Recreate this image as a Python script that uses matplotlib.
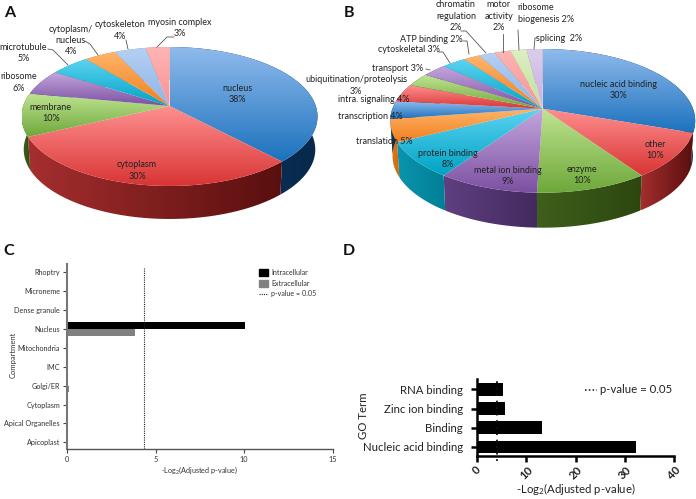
#!/usr/bin/env python3
import numpy as np
import matplotlib
matplotlib.use("Agg")
import matplotlib.pyplot as plt
from matplotlib.colors import LinearSegmentedColormap
from matplotlib.patches import Polygon
from matplotlib.lines import Line2D
from matplotlib.patches import Patch

plt.rcParams['font.family'] = ['Lato', 'DejaVu Sans']
plt.rcParams['mathtext.default'] = 'regular'

# panel A
a_values = [38, 30, 10, 6, 5, 4, 4, 3]
a_labels = ["nucleus\n38%", "cytoplasm\n30%", "membrane\n10%", "ribosome\n6%",
            "microtubule\n5%", "cytoplasm/\nnucleus\n4%", "cytoskeleton\n4%",
            "myosin complex\n3%"]
# panel B
b_values = [30, 10, 10, 9, 8, 5, 4, 4, 3, 3, 3, 2, 2, 2, 2, 2]
b_labels = ["nucleic acid binding\n30%", "other\n10%", "enzyme\n10%",
            "metal ion binding\n9%", "protein binding\n8%", "translation 5%",
            "transcription 4%", "intra. signaling 4%",
            "ubiquitination/proteolysis\n3%", "transport 3%", "cytoskeletal 3%",
            "ATP binding 2%", "chromatin\nregulation\n2%", "motor\nactivity\n2%",
            "ribosome\nbiogenesis 2%", "splicing  2%"]
# panel C
c_compartments = ["Apicoplast", "Apical Organelles", "Cytoplasm", "Golgi/ER", "IMC",
                  "Mitochondria", "Nucleus", "Dense granule", "Microneme", "Rhoptry"]
c_intra = [0, 0, 0, 0, 0, 0, 10.05, 0, 0, 0]
c_extra = [0, 0, 0, 0.1, 0, 0, 3.85, 0, 0, 0]
c_cutoff = 4.35
# panel D
d_terms = ["Nucleic acid binding", "Binding", "Zinc ion binding", "RNA binding"]
d_values = [32.3, 13.1, 5.75, 5.3]
d_cutoff = 4.05

# (top colour, bottom colour, wall left, wall right)
BLUE = ("#8fbaec", "#1c72bd", "#0d3a66", "#07294a")
RED = ("#ff8f8f", "#d93535", "#a52e2e", "#5a0f0f")
GREEN = ("#bfe391", "#6ea83a", "#3f5f1c", "#2c4710")
PURPLE = ("#c3a6dc", "#7c50a2", "#5e3f80", "#432a5e")
CYAN = ("#5cd3f2", "#00a3c4", "#0a94ad", "#007f96")
ORANGE = ("#ffb56b", "#f27f1e", "#e07a1a", "#c96a12")
LBLUE = ("#b5d0f3", "#8db5e8", "#6f93c0", "#6f93c0")
SALMON = ("#ffb5b5", "#f79292", "#c07070", "#c07070")
LGREEN = ("#dcefc2", "#c2e09a", "#90a870", "#90a870")
LAV = ("#dccdec", "#c6aee0", "#9580a8", "#9580a8")

a_colors = [BLUE, RED, GREEN, PURPLE, CYAN, ORANGE, LBLUE, SALMON]
b_colors = [BLUE, RED, GREEN, PURPLE, CYAN, ORANGE, BLUE, RED, GREEN, PURPLE, CYAN,
            ORANGE, LBLUE, SALMON, LGREEN, LAV]


def project(theta, pie):
    # unit circle -> tilted ellipse, apex stays at the slice centre
    u, v = np.sin(theta), np.cos(theta)
    d = 1 + pie["k"] * v
    return pie["cx"] + pie["sx"] * u / d, pie["cy"] - pie["sy"] * v / d


def gradient(ax, xy, c0, c1, horizontal=False):
    patch = Polygon(xy, closed=True, fc="none", ec="none")
    ax.add_patch(patch)
    cmap = LinearSegmentedColormap.from_list("g", [c0, c1])
    g = np.linspace(0, 1, 64)
    g = g.reshape(1, -1) if horizontal else g.reshape(-1, 1)
    x0, x1 = xy[:, 0].min(), xy[:, 0].max()
    y0, y1 = xy[:, 1].min(), xy[:, 1].max()
    im = ax.imshow(g, extent=(x0, x1, y1, y0), cmap=cmap, aspect="auto",
                   interpolation="bilinear", zorder=patch.get_zorder())
    im.set_clip_path(patch)


def draw_pie(ax, values, colors, pie):
    edges = np.cumsum([0] + list(values)) / float(sum(values)) * 2 * np.pi
    # walls first, the top faces cover the back part
    for t0, t1, c in zip(edges[:-1], edges[1:], colors):
        x, y = project(np.linspace(t0, t1, 80), pie)
        low_x = pie["cx"] + (x - pie["cx"]) * 0.985
        xy = np.r_[np.c_[x, y], np.c_[low_x, y + pie["depth"]][::-1]]
        gradient(ax, xy, c[2], c[3], horizontal=True)
    for t0, t1, c in zip(edges[:-1], edges[1:], colors):
        x, y = project(np.linspace(t0, t1, 80), pie)
        xy = np.r_[[[pie["cx"], pie["cy"]]], np.c_[x, y]]
        gradient(ax, xy, c[0], c[1])


fig = plt.figure(figsize=(6.96, 4.99), dpi=100)
W, H = 696.0, 499.0
bg = fig.add_axes([0, 0, 1, 1])
bg.set_xlim(0, W)
bg.set_ylim(H, 0)
bg.axis("off")

pie_a = dict(cx=169.5, cy=106, sx=146.3, sy=67.9, k=0.151, depth=33)
pie_b = dict(cx=542.7, cy=108.7, sx=150.3, sy=69.8, k=0.169, depth=35)
draw_pie(bg, a_values, a_colors, pie_a)
draw_pie(bg, b_values, b_colors, pie_b)
bg.set_xlim(0, W)
bg.set_ylim(H, 0)

a_pos = [(237.7, 94), (137, 170.5), (50.7, 112.7), (18.5, 82.5), (23.5, 52.8), (70.7, 40.8),
         (120, 30.5), (180, 27.7)]
b_pos = [(618, 90), (655, 150), (581.7, 175), (508, 176), (447.7, 159), (384, 141),
         (370, 116.7), (373.5, 99), (356, 85.5), (398, 68), (408.7, 49), (431, 39),
         (456, 16), (498.7, 16), (517.7, 13.5), (558.7, 38.7)]
for txt, (x, y) in zip(a_labels + b_labels, a_pos + b_pos):
    ha = "left" if txt.startswith("ribosome\nbio") else "center"
    bg.text(x, y, txt, ha=ha, va="center", fontsize=6.5, color="#222222",
            linespacing=1.3)

leaders = [
    [(157, 47), (167, 37), (174, 37)], [(128, 49), (126, 40)],
    [(98, 55), (90, 44), (85, 41)], [(68, 65), (53, 50), (48, 49)],
    [(486, 53), (466, 31), (461, 31)], [(503, 52), (503, 34)],
    [(519, 50), (518, 30)], [(534, 49), (535, 38), (537, 38)],
    [(469, 54), (467, 41), (463, 41)], [(450, 63), (443, 52), (439, 52)],
    [(430, 70), (426, 69)], [(405, 81), (400, 81)],
]
for pts in leaders:
    bg.plot(*zip(*pts), color="#555555", lw=0.6)

for s, x, y in [("A", 10, 13), ("B", 349, 13), ("C", 9, 251), ("D", 349, 251)]:
    bg.text(x, y, s, ha="center", va="center", fontsize=11.5, fontweight="bold",
            color="#111111")

# panel C
ax = fig.add_axes([67 / W, 1 - 449 / H, (332.7 - 67) / W, (449 - 264) / H])
ax.patch.set_visible(False)
ypos = np.arange(len(c_compartments))
ax.barh(ypos + 0.185, c_intra, height=0.32, color="black")
ax.barh(ypos - 0.185, c_extra, height=0.32, color="#808080")
ax.plot([c_cutoff, c_cutoff], [-0.35, 9.25], color="#222222", lw=0.8, ls=(0, (1, 1)))
ax.set_xlim(0, 15)
ax.set_ylim(-0.35, 9.44)
ax.set_xticks([0, 5, 10, 15])
ax.set_yticks(ypos)
ax.set_yticklabels(c_compartments)
ax.tick_params(labelsize=5.2, length=3, width=0.8, pad=2, color="#444444", labelcolor="#333333")
ax.set_xlabel(r"-Log$_{2}$(Adjusted p-value)", fontsize=5.2, color="#333333", labelpad=1)
ax.set_ylabel("Compartment", fontsize=5.5, color="#333333")
ax.yaxis.set_label_coords(-0.188, 0.508)
ax.spines[["top", "right"]].set_visible(False)
ax.spines["left"].set_linewidth(1.5)
ax.spines["left"].set_color("#777777")
ax.spines["bottom"].set_linewidth(1)
ax.spines["bottom"].set_color("#555555")
handles = [Patch(color="black", label="Intracellular"),
           Patch(color="#808080", label="Extracellular"),
           Line2D([], [], color="#222222", lw=0.8, ls=(0, (1, 1)), label="p-value = 0.05")]
ax.legend(handles=handles, loc="upper left", bbox_to_anchor=(0.723, 0.975), frameon=False,
          fontsize=5.1, labelspacing=0.55, handlelength=1.2, handleheight=1.1, handletextpad=0.5,
          borderpad=0, borderaxespad=0, labelcolor="#333333")

# panel D
ax = fig.add_axes([477 / W, 1 - 456 / H, (674.3 - 477) / W, (456 - 379.3) / H])
ax.patch.set_visible(False)
ypos = np.arange(len(d_terms))
ax.barh(ypos, d_values, height=0.66, color="black")
ax.plot([d_cutoff, d_cutoff], [-0.72, 3.6], color="#111111", lw=1.3, ls=(0, (1, 2.6)),
        zorder=3, clip_on=False)
ax.set_xlim(0, 40)
ax.set_ylim(-0.48, 3.53)
ax.set_xticks([0, 10, 20, 30, 40])
ax.set_yticks(ypos)
ax.set_yticklabels(d_terms)
ax.tick_params(axis="y", labelsize=8.2, length=4, width=1.8, pad=6, labelcolor="#222222")
ax.tick_params(axis="x", labelsize=8.2, length=4, width=1.8, pad=2, labelcolor="#222222")
for t in ax.get_xticklabels():
    t.set_rotation(45)
    t.set_fontweight("bold")
ax.set_xlabel(r"-Log$_{2}$(Adjusted p-value)", fontsize=8.2, color="#222222", labelpad=0)
ax.set_ylabel("GO Term", fontsize=8.2, color="#222222")
ax.yaxis.set_label_coords(-0.548, 0.53)
ax.spines[["top", "right"]].set_visible(False)
ax.spines["left"].set_linewidth(1.8)
ax.spines["bottom"].set_linewidth(1.8)
bg.plot([585, 597], [389.5, 389.5], color="#111111", lw=1.1, ls=(0, (1, 1.5)))
bg.text(600.5, 389.5, "p-value = 0.05", ha="left", va="center", fontsize=8.2, color="#222222")

fig.savefig("out.png", dpi=100)
